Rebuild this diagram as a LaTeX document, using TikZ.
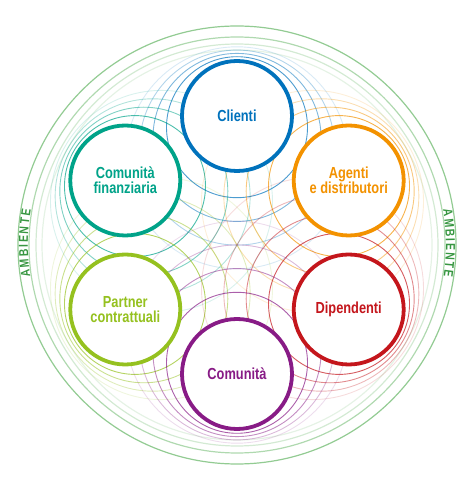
\documentclass[tikz,border=0pt]{standalone}
\usepackage{fontspec}
\setmainfont{Liberation Sans}
\newfontfamily\condfont[FakeStretch=0.8]{Liberation Sans}
\usetikzlibrary{calc}
\definecolor{cblue}{RGB}{0,114,188}
\definecolor{cteal}{RGB}{0,163,137}
\definecolor{corange}{RGB}{243,146,0}
\definecolor{clime}{RGB}{149,193,31}
\definecolor{cred}{RGB}{196,22,28}
\definecolor{cpurple}{RGB}{136,27,134}
\definecolor{cgreen}{RGB}{110,185,110}
\definecolor{ctext}{RGB}{55,150,65}
\begin{document}
\begin{tikzpicture}[x=1pt,y=1pt,
  stake/.style={circle, draw=#1, line width=3.8pt, fill=white, minimum size=110pt,
    inner sep=0pt, text=#1, align=center,
    font=\condfont\bfseries\fontsize{16}{15}\selectfont},
  ring/.style={draw=#1, line width=0.9pt},
  envring/.style={draw=cgreen, line width=1.2pt},
  envletter/.style={text=ctext, font=\condfont\bfseries\fontsize{13}{13}\selectfont, inner sep=0pt}]
\useasboundingbox (0,0) rectangle (475,490);
\coordinate (O) at (237,245);
% environment rings
\foreach \r/\o in {219/0.75, 208/0.55, 201/0.3, 195/0.18}
  \draw[envring, draw opacity=\o] (O) circle[radius=\r];
% stakeholder rings
\foreach \a/\c in {90/cblue,150/cteal,30/corange,210/clime,330/cred,270/cpurple}{
  \foreach \k/\o in {1/0.7,2/0.5,3/0.3,4/0.15}{
    \draw[ring=\c, draw opacity=\o] ($(O)+(\a:{128-10.2*\k})$) circle[radius={57+13.5*\k}];
  }
}
% stakeholders
\node[stake=cblue]   (clienti)    at ($(O)+(90:129)$)  {Clienti};
\node[stake=cteal]   (finanza)    at ($(O)+(150:129)$) {Comunità\\finanziaria};
\node[stake=corange] (agenti)     at ($(O)+(30:129)$)  {Agenti\\e distributori};
\node[stake=clime]   (partner)    at ($(O)+(210:129)$) {Partner\\contrattuali};
\node[stake=cred]    (dipendenti) at ($(O)+(330:129)$) {Dipendenti};
\node[stake=cpurple] (comunita)   at ($(O)+(270:129)$) {Comunità};
% AMBIENTE labels (letters placed by width along the arc)
\foreach \l/\d [count=\i] in {A/-8.16,M/-5.45,B/-2.75,I/-0.82,E/1.04,N/3.52,T/5.91,E/8.23}{
  \pgfmathsetmacro\tl{179.5-\d}
  \pgfmathsetmacro\tr{0.5-\d}
  \node[envletter, rotate=\tl-90] (envl\i) at ($(O)+(\tl:213.5)$) {\l};
  \node[envletter, rotate=\tr-90] (envr\i) at ($(O)+(\tr:213.5)$) {\l};
}
\end{tikzpicture}
\end{document}
